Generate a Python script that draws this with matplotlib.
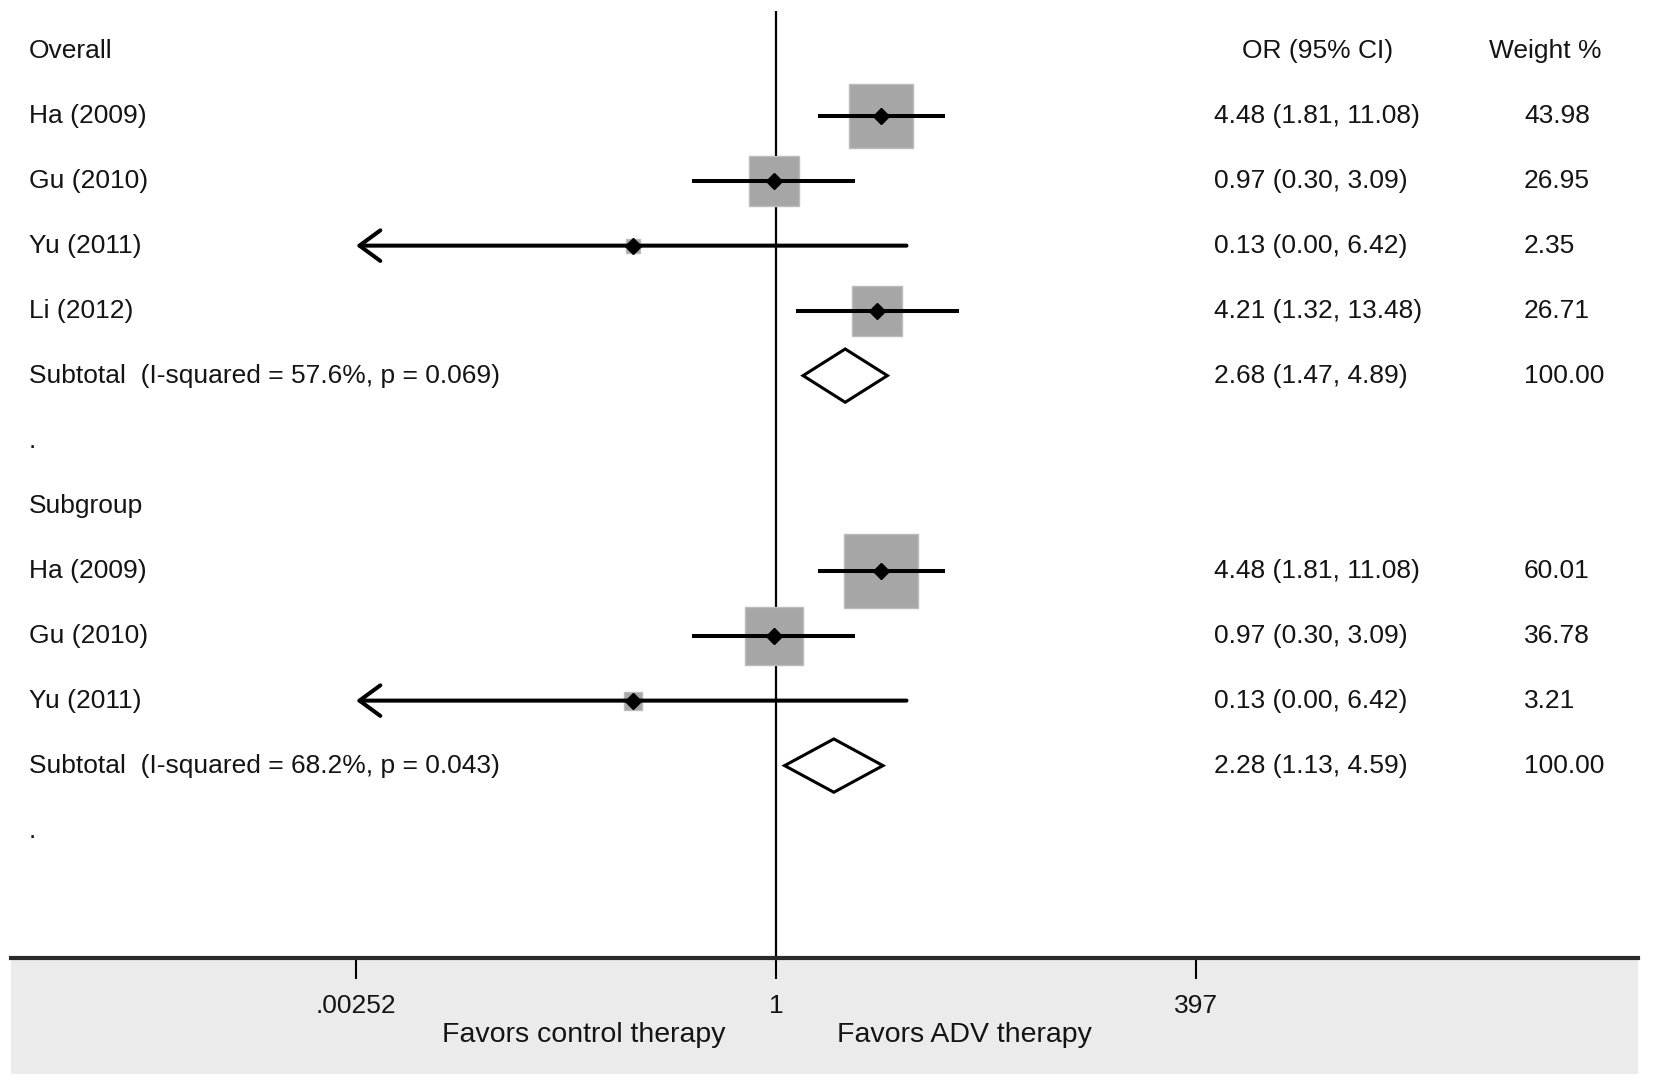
import numpy as np
import matplotlib.pyplot as plt
from matplotlib.patches import Polygon, Rectangle
from matplotlib.transforms import blended_transform_factory

plt.rcParams['font.family'] = ['Liberation Sans', 'DejaVu Sans']

# Linhas do forest plot (texto da esquerda)
labels = ['Overall', 'Ha (2009)', 'Gu (2010)', 'Yu (2011)', 'Li (2012)',
          'Subtotal  (I-squared = 57.6%, p = 0.069)', '.',
          'Subgroup', 'Ha (2009)', 'Gu (2010)', 'Yu (2011)',
          'Subtotal  (I-squared = 68.2%, p = 0.043)', '.']

# Estudos individuais
study_row = [1, 2, 3, 4, 8, 9, 10]
study_or = [4.48, 0.97, 0.13, 4.21, 4.48, 0.97, 0.13]
study_lo = [1.81, 0.30, 0.00, 1.32, 1.81, 0.30, 0.00]
study_hi = [11.08, 3.09, 6.42, 13.48, 11.08, 3.09, 6.42]
study_w = [43.98, 26.95, 2.35, 26.71, 60.01, 36.78, 3.21]

# Subtotais (diamantes)
sub_row = [5, 11]
sub_or = [2.68, 2.28]
sub_lo = [1.47, 1.13]
sub_hi = [4.89, 4.59]
sub_w = [100.00, 100.00]

xticks = [0.00252, 1, 397]
xtick_labels = ['.00252', '1', '397']

fig = plt.figure(figsize=(16.54, 10.88), dpi=100)

# fundo cinza do eixo x
fig.patches.append(Rectangle((11/1654, 14/1088), 1627/1654, 114/1088,
                             transform=fig.transFigure, facecolor='#ebebeb',
                             edgecolor='none', zorder=-5))

ax = fig.add_axes([11/1654, 130/1088, 1627/1654, (1077-130)/1088])
ax.set_xscale('log')
ax.set_xlim(10**-4.734, 10**5.334)
ax.set_ylim(13.96, -0.61)

# linha vertical em 1
ax.axvline(1, color='black', lw=1.6, zorder=1)

xmin = xticks[0]
for r, est, lo, hi, w in zip(study_row, study_or, study_lo, study_hi, study_w):
    ax.scatter([est], [r], marker='s', s=46.8*w, color='#a6a6a6',
               edgecolor='#bcbcbc', linewidth=1, zorder=2)
    if lo < xmin:
        # IC truncado: seta ate o limite do eixo
        ax.annotate('', xy=(xmin, r), xytext=(hi, r),
                    arrowprops=dict(arrowstyle='->,head_length=1.5,head_width=1.1',
                                    lw=2.9, color='black', shrinkA=0, shrinkB=0),
                    zorder=3)
    else:
        ax.plot([lo, hi], [r, r], color='black', lw=2.9, zorder=3,
                solid_capstyle='butt')
    ax.plot([est], [r], marker='D', markersize=8, color='black', zorder=4)

for r, est, lo, hi in zip(sub_row, sub_or, sub_lo, sub_hi):
    d = Polygon([(lo, r), (est, r - 0.41), (hi, r), (est, r + 0.41)],
                closed=True, fill=False, edgecolor='black', lw=2.2, zorder=3)
    ax.add_patch(d)

# colunas de texto
tr = blended_transform_factory(ax.transAxes, ax.transData)
txt = dict(fontsize=19, color='#141414', va='center', transform=tr)
for i, lab in enumerate(labels):
    ax.text(0.0108, i, lab, ha='left', **txt)

ax.text(0.7566, 0, 'OR (95% CI)', ha='left', **txt)
ax.text(0.9084, 0, 'Weight %', ha='left', **txt)

for r, est, lo, hi, w in zip(study_row, study_or, study_lo, study_hi, study_w):
    ax.text(0.7394, r, f'{est:.2f} ({lo:.2f}, {hi:.2f})', ha='left', **txt)
    ax.text(0.930, r, f'{w:.2f}', ha='left', **txt)
for r, est, lo, hi, w in zip(sub_row, sub_or, sub_lo, sub_hi, sub_w):
    ax.text(0.7394, r, f'{est:.2f} ({lo:.2f}, {hi:.2f})', ha='left', **txt)
    ax.text(0.930, r, f'{w:.2f}', ha='left', **txt)

# eixo x
for s in ['top', 'left', 'right']:
    ax.spines[s].set_visible(False)
ax.spines['bottom'].set_linewidth(3)
ax.spines['bottom'].set_color('#2a2a2a')
ax.set_yticks([])
ax.set_xticks(xticks)
ax.set_xticklabels(xtick_labels)
ax.minorticks_off()
ax.tick_params(axis='x', length=15, width=1.5, pad=11, labelsize=19,
               labelcolor='#141414')
ax.patch.set_alpha(0)

fig.text(726/1654, 53/1088, 'Favors control therapy', ha='right', va='center',
         fontsize=20.5, color='#141414')
fig.text(837/1654, 53/1088, 'Favors ADV therapy', ha='left', va='center',
         fontsize=20.5, color='#141414')

fig.savefig('out.png', dpi=100)
